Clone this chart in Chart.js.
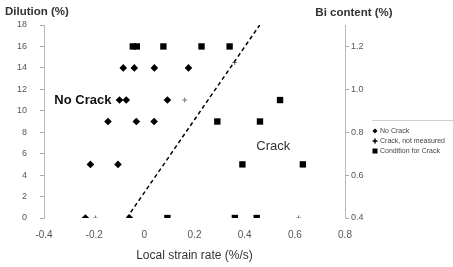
<!DOCTYPE html>
<html>
<head>
<meta charset="utf-8">
<script src="https://cdn.jsdelivr.net/npm/chart.js@4.4.1/dist/chart.umd.min.js"></script>
<style>
    html, body { margin: 0; padding: 0; background: #fff; }
</style>
</head>
<body>
<canvas id="crackChart" width="453" height="267"></canvas>
<script>
// data: local strain rate (%/s) vs dilution (%)
const noCrackStrain   = [-0.084, -0.04, 0.04, 0.176, -0.099, -0.072, 0.092, -0.145, -0.032, 0.039, -0.215, -0.105, -0.235, -0.059];
const noCrackDilution = [14, 14, 14, 14, 11, 11, 11, 9, 9, 9, 5, 5, 0, 0];

const crackStrain   = [-0.046, -0.03, 0.076, 0.228, 0.34, 0.541, 0.291, 0.461, 0.391, 0.632, 0.092, 0.361, 0.448];
const crackDilution = [16, 16, 16, 16, 16, 11, 9, 9, 5, 5, 0, 0, 0];

const notMeasuredStrain   = [-0.195, 0.161, 0.615, 0.36];
const notMeasuredDilution = [0, 11, 0, 14.5];

const boundaryStrain   = [-0.07, 0.46];
const boundaryDilution = [0, 18];

const seriesNames = ["No Crack", "Crack, not measured", "Condition for Crack"];

function toPoints(xs, ys) {
    return xs.map((x, i) => ({ x: x, y: ys[i] }));
}

const FONT = "Arial, 'Liberation Sans', sans-serif";

// titles, annotations and legend (Excel style, outside the chart area)
const extrasPlugin = {
    id: "extras",
    afterDraw(chart) {
        const ctx = chart.ctx;
        const sx = chart.scales.x;
        const sy = chart.scales.y;
        ctx.save();

        // axis titles on top
        ctx.fillStyle = "#333";
        ctx.textBaseline = "middle";
        ctx.font = "bold 11.5px " + FONT;
        ctx.textAlign = "left";
        ctx.fillText("Dilution (%)", 5, 12);
        ctx.textAlign = "center";
        ctx.fillText("Bi content (%)", 354, 13);

        // region labels
        ctx.fillStyle = "#111";
        ctx.font = "bold 13px " + FONT;
        ctx.fillText("No Crack", sx.getPixelForValue(-0.245), sy.getPixelForValue(11));
        ctx.fillStyle = "#333";
        ctx.font = "13px " + FONT;
        ctx.fillText("Crack", sx.getPixelForValue(0.514), sy.getPixelForValue(6.7));

        // legend
        ctx.strokeStyle = "#d0d0d0";
        ctx.lineWidth = 1;
        ctx.beginPath();
        ctx.moveTo(372, 120.5);
        ctx.lineTo(453, 120.5);
        ctx.stroke();

        ctx.font = "7px " + FONT;
        ctx.textAlign = "left";
        const mx = 375;
        seriesNames.forEach((name, i) => {
            const ly = 131 + i * 10;
            ctx.fillStyle = "#000";
            ctx.strokeStyle = "#000";
            if (i === 0) {
                ctx.beginPath();
                ctx.moveTo(mx, ly - 2.5);
                ctx.lineTo(mx + 2.5, ly);
                ctx.lineTo(mx, ly + 2.5);
                ctx.lineTo(mx - 2.5, ly);
                ctx.closePath();
                ctx.fill();
            } else if (i === 1) {
                ctx.beginPath();
                ctx.moveTo(mx - 2.5, ly);
                ctx.lineTo(mx + 2.5, ly);
                ctx.moveTo(mx, ly - 2.5);
                ctx.lineTo(mx, ly + 2.5);
                ctx.lineWidth = 1.5;
                ctx.stroke();
            } else {
                ctx.fillRect(mx - 2.5, ly - 2.5, 5, 5);
            }
            ctx.fillStyle = "#444";
            ctx.fillText(name, mx + 5, ly);
        });

        ctx.restore();
    }
};

const ctx = document.getElementById("crackChart").getContext("2d");

new Chart(ctx, {
    type: "scatter",
    data: {
        datasets: [
            {
                label: "Boundary",
                data: toPoints(boundaryStrain, boundaryDilution),
                showLine: true,
                borderColor: "#000",
                borderWidth: 1.5,
                borderDash: [4, 3],
                pointRadius: 0,
                yAxisID: "y",
            },
            {
                label: seriesNames[0],
                data: toPoints(noCrackStrain, noCrackDilution),
                pointStyle: "rectRot",
                pointRadius: 3.8,
                backgroundColor: "#000",
                borderColor: "#000",
                borderWidth: 0,
                yAxisID: "y",
            },
            {
                label: seriesNames[1],
                data: toPoints(notMeasuredStrain, notMeasuredDilution),
                pointStyle: "cross",
                pointRadius: 2.5,
                borderColor: "#777",
                borderWidth: 1,
                yAxisID: "y",
            },
            {
                label: seriesNames[2],
                data: toPoints(crackStrain, crackDilution),
                pointStyle: "rect",
                pointRadius: 4.5,
                backgroundColor: "#000",
                borderColor: "#000",
                borderWidth: 0,
                yAxisID: "y",
            },
        ],
    },
    options: {
        responsive: false,
        animation: false,
        devicePixelRatio: 1,
        layout: { padding: { top: 25, left: 0, right: 0, bottom: 0 } },
        plugins: {
            legend: { display: false },
            tooltip: { enabled: false },
        },
        scales: {
            x: {
                type: "linear",
                min: -0.4,
                max: 0.8,
                ticks: {
                    stepSize: 0.2,
                    padding: 11,
                    color: "#555",
                    font: { family: FONT, size: 10 },
                    callback: (v) => (Math.abs(v) < 1e-9 ? "0" : v.toFixed(1)),
                },
                grid: { display: false, drawTicks: false },
                border: { display: false },
                title: {
                    display: true,
                    text: "Local strain rate (%/s)",
                    color: "#333",
                    font: { family: FONT, size: 12 },
                    padding: { top: 0, bottom: 4 },
                },
                afterFit(scale) { scale.height = 49; },
            },
            y: {
                type: "linear",
                position: "left",
                min: 0,
                max: 18,
                ticks: {
                    stepSize: 2,
                    padding: 13,
                    color: "#555",
                    font: { family: FONT, size: 9 },
                },
                grid: { drawOnChartArea: false, drawTicks: true, tickLength: 4, color: "#aaa" },
                border: { display: true, color: "#bbb", width: 1 },
                afterFit(scale) { scale.width = 44; },
            },
            y2: {
                type: "linear",
                position: "right",
                min: 0.4,
                max: 1.3,
                ticks: {
                    stepSize: 0.2,
                    includeBounds: false,
                    padding: 2,
                    color: "#555",
                    font: { family: FONT, size: 9 },
                    callback: (v) => v.toFixed(1),
                },
                grid: { drawOnChartArea: false, drawTicks: true, tickLength: 4, color: "#aaa" },
                border: { display: true, color: "#bbb", width: 1 },
                afterFit(scale) { scale.width = 108; },
            },
        },
    },
    plugins: [extrasPlugin],
});
</script>
</body>
</html>
